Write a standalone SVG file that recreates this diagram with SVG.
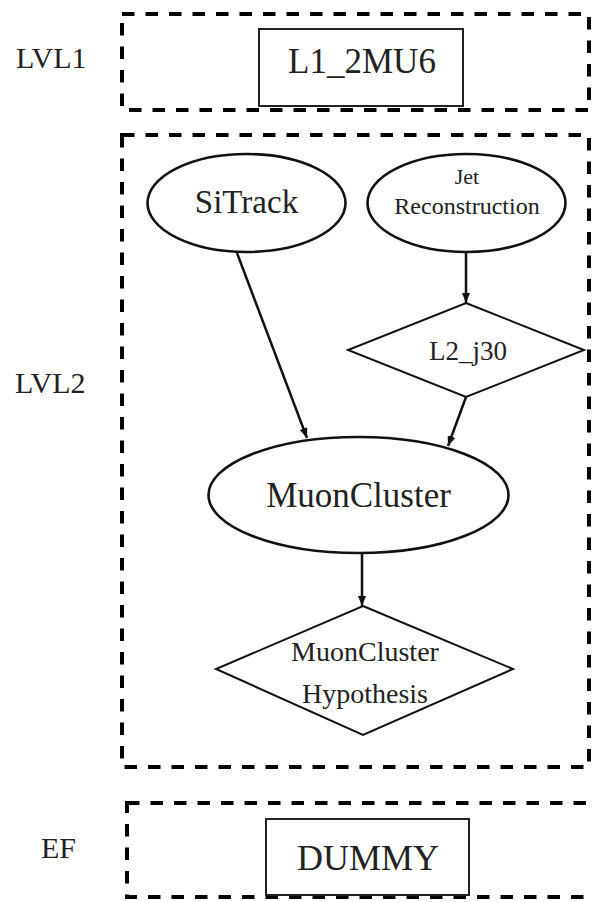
<svg xmlns="http://www.w3.org/2000/svg" width="593" height="902" viewBox="0 0 593 902">
<style>
.cluster{fill:none;stroke:#000;stroke-width:4;stroke-dasharray:12.5 11}
.box{fill:#fff;stroke:#222;stroke-width:2}
.ell{fill:#fff;stroke:#111;stroke-width:2.6}
.dia{fill:#fff;stroke:#111;stroke-width:2}
.edge{fill:none;stroke:#111;stroke-width:2.5}
text{font-family:"Liberation Serif","Times New Roman",serif;fill:#222;text-anchor:middle}
.lbl{font-size:30px;text-anchor:start}
</style>
<defs>
<marker id="arr" markerWidth="10" markerHeight="8" refX="10" refY="4" orient="auto" markerUnits="userSpaceOnUse">
<path d="M0,0 L10,4 L0,8 Z" fill="#111"/>
</marker>
</defs>
<g id="cluster-lvl1">
<rect class="cluster" x="122" y="14" width="467" height="96"/>
<text class="lbl" x="16" y="68">LVL1</text>
</g>
<g id="cluster-lvl2">
<rect class="cluster" x="122" y="135" width="467" height="632"/>
<text class="lbl" x="15" y="393">LVL2</text>
</g>
<g id="cluster-ef">
<rect class="cluster" x="127" y="803" width="475" height="94"/>
<text class="lbl" x="41" y="858">EF</text>
</g>
<g id="L1_2MU6">
<rect class="box" x="259" y="29" width="204" height="77"/>
<text x="362" y="73" font-size="35">L1_2MU6</text>
</g>
<g id="SiTrack">
<ellipse class="ell" cx="246.5" cy="203" rx="99" ry="49"/>
<text x="246.5" y="213" font-size="33">SiTrack</text>
</g>
<g id="JetReconstruction">
<ellipse class="ell" cx="466.5" cy="203" rx="99" ry="49"/>
<text x="467" y="184" font-size="22">Jet</text>
<text x="467" y="214" font-size="24">Reconstruction</text>
</g>
<g id="L2_j30">
<polygon class="dia" points="466,303 584,350 466,397 348,350"/>
<text x="468" y="360" font-size="27">L2_j30</text>
</g>
<g id="MuonCluster">
<ellipse class="ell" cx="358.5" cy="495" rx="150" ry="58"/>
<text x="358.5" y="507" font-size="35">MuonCluster</text>
</g>
<g id="MuonClusterHypothesis">
<polygon class="dia" points="363,606 513,669 363,735 216,669"/>
<text x="365" y="661" font-size="28">MuonCluster</text>
<text x="365" y="703" font-size="28">Hypothesis</text>
</g>
<g id="DUMMY">
<rect class="box" x="266" y="819" width="203" height="76"/>
<text x="368" y="870" font-size="36">DUMMY</text>
</g>
<g id="connectors">
<line class="edge" x1="237" y1="253" x2="307" y2="438" marker-end="url(#arr)"/>
<line class="edge" x1="466" y1="252" x2="466" y2="303" marker-end="url(#arr)"/>
<line class="edge" x1="466" y1="397" x2="448" y2="446" marker-end="url(#arr)"/>
<line class="edge" x1="362" y1="553" x2="362" y2="606" marker-end="url(#arr)"/>
</g>
</svg>
